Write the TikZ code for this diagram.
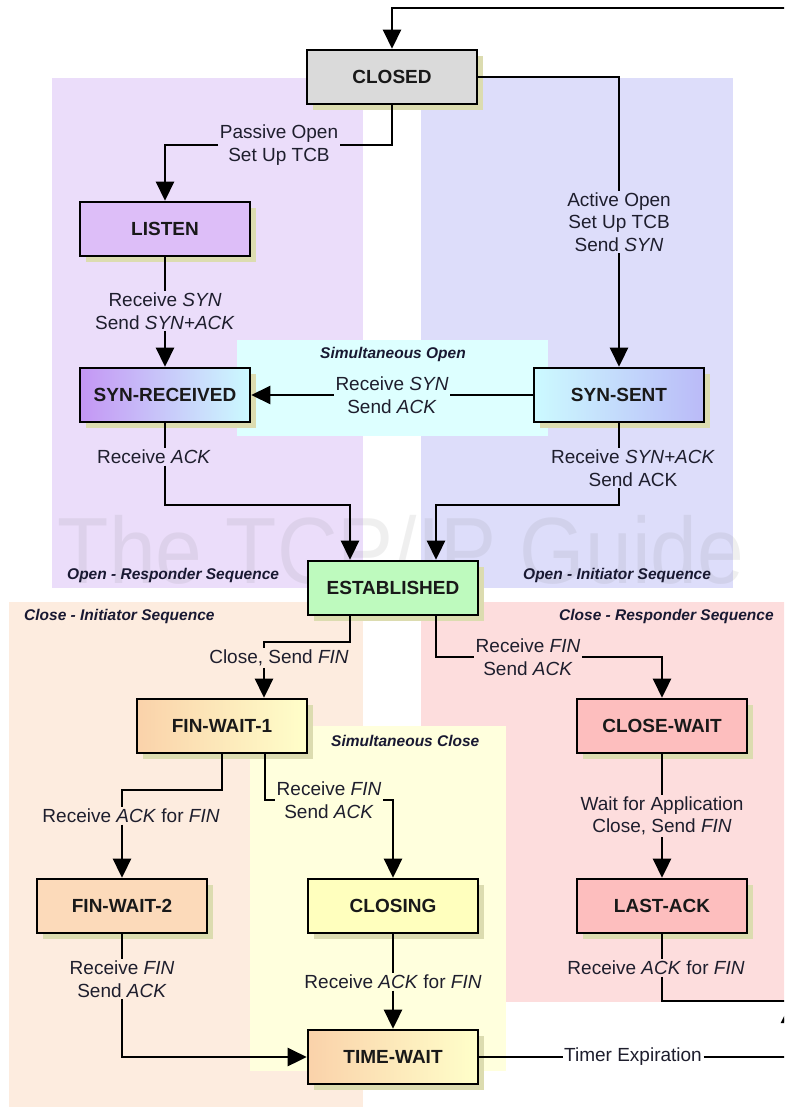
\documentclass[tikz,border=0pt]{standalone}
\usepackage{fontspec}
\setmainfont{Liberation Sans}
\usetikzlibrary{arrows.meta,shadows,calc}
\definecolor{bgpurple}{RGB}{235,221,250}
\definecolor{bgblue}{RGB}{221,221,250}
\definecolor{bgcyan}{RGB}{221,255,255}
\definecolor{bgpeach}{RGB}{253,236,223}
\definecolor{bgpink}{RGB}{253,221,221}
\definecolor{bgyellow}{RGB}{255,255,221}
\definecolor{shadowc}{RGB}{220,220,176}
\definecolor{labc}{RGB}{30,30,45}
\definecolor{titc}{RGB}{25,25,50}
\definecolor{cgray}{RGB}{218,218,218}
\definecolor{clisten}{RGB}{221,190,248}
\definecolor{cpurple}{RGB}{196,150,244}
\definecolor{clcyan}{RGB}{204,250,255}
\definecolor{clblue}{RGB}{186,186,248}
\definecolor{cgreen}{RGB}{190,250,190}
\definecolor{cpeach}{RGB}{250,210,170}
\definecolor{cpeach2}{RGB}{252,218,186}
\definecolor{clyellow}{RGB}{255,255,202}
\definecolor{cyellow}{RGB}{255,255,190}
\definecolor{cpink}{RGB}{253,190,190}
\begin{document}
\begin{tikzpicture}[x=1pt,y=-1pt,
  box/.style={draw=black, line width=2.6pt, minimum width=170pt, minimum height=54pt, inner sep=0pt,
    font=\fontsize{19}{22}\selectfont\bfseries, text=black!90,
    drop shadow={shadow xshift=6pt, shadow yshift=-6pt, fill=shadowc, opacity=1}},
  lab/.style={inner sep=1.5pt, align=center, font=\fontsize{19}{22.5}\selectfont, text=labc},
  conn/.style={line width=2.6pt, draw=black},
  arr/.style={conn, -{Triangle[length=19pt,width=18pt]}},
  region/.style={font=\fontsize{15.5}{18}\selectfont\bfseries\itshape, text=titc, inner sep=0pt},
]
\useasboundingbox (0,0) rectangle (784,1107);
\clip (0,0) rectangle (784,1107);
\fill[white] (0,0) rectangle (784,1107);

% background regions
\fill[bgpurple] (52,78) rectangle (363,588);
\fill[bgblue] (421,78) rectangle (733,588);
\fill[bgcyan] (237,340) rectangle (548,436);
\fill[bgpeach] (9,602) rectangle (363,1107);
\fill[bgpink] (421,602) rectangle (795,1002);
\fill[bgyellow] (250,726) rectangle (506,1071);

% watermark
\node[anchor=base, text=gray, opacity=0.12, inner sep=0pt, font=\fontsize{84}{84}\selectfont] (wm) at (401,583) {\scalebox{1}[1.12]{The TCP/IP Guide}};

% region titles
\node[region, anchor=west] (t1) at (67,575) {Open - Responder Sequence};
\node[region, anchor=west] (t2) at (523,575) {Open - Initiator Sequence};
\node[region] (t3) at (393,354) {Simultaneous Open};
\node[region, anchor=west] (t4) at (24,616) {Close - Initiator Sequence};
\node[region, anchor=west] (t5) at (559,616) {Close - Responder Sequence};
\node[region, anchor=west] (t6) at (331,741) {Simultaneous Close};

% states
\node[box, fill=cgray] (closed) at (392,77) {CLOSED};
\node[box, fill=clisten] (listen) at (165,229) {LISTEN};
\node[box, left color=cpurple, right color=clcyan] (synrcvd) at (165,395) {SYN-RECEIVED};
\node[box, left color=clcyan, right color=clblue] (synsent) at (619,395) {SYN-SENT};
\node[box, fill=cgreen] (est) at (393,588) {ESTABLISHED};
\node[box, left color=cpeach, right color=clyellow] (fw1) at (222,726) {FIN-WAIT-1};
\node[box, fill=cpink] (closewait) at (662,726) {CLOSE-WAIT};
\node[box, fill=cpeach2] (fw2) at (122,906) {FIN-WAIT-2};
\node[box, fill=cyellow] (closing) at (393,906) {CLOSING};
\node[box, fill=cpink] (lastack) at (662,906) {LAST-ACK};
\node[box, left color=cpeach, right color=clyellow] (timewait) at (393,1057) {TIME-WAIT};

% transition labels
\node[lab] (l1) at (279,145) {Passive Open\\Set Up TCB};
\node[lab] (l3) at (165,311) {Receive \textit{SYN}\\Send \textit{SYN+ACK}};
\node[lab] (l4) at (392,395) {Receive \textit{SYN}\\Send \textit{ACK}};
\node[lab] (l5) at (619,222) {Active Open\\Set Up TCB\\Send \textit{SYN}};
\node[lab] (l6) at (154,457) {Receive \textit{ACK}};
\node[lab] (l7) at (633,468) {Receive \textit{SYN+ACK}\\Send ACK};
\node[lab] (l8) at (279,658) {Close, Send \textit{FIN}};
\node[lab] (l9) at (528,657) {Receive \textit{FIN}\\Send \textit{ACK}};
\node[lab] (l10) at (131,816) {Receive \textit{ACK} for \textit{FIN}};
\node[lab] (l11) at (329,800) {Receive \textit{FIN}\\Send \textit{ACK}};
\node[lab] (l12) at (122,979) {Receive \textit{FIN}\\Send \textit{ACK}};
\node[lab] (l13) at (393,982) {Receive \textit{ACK} for \textit{FIN}};
\node[lab] (l14) at (662,816) {Wait for Application\\Close, Send \textit{FIN}};
\node[lab] (l15) at (656,968) {Receive \textit{ACK} for \textit{FIN}};
\node[lab] (l16) at (633,1057) {Timer Expiration};

% helper coordinates
\coordinate (rb) at (790,1001);
\coordinate (rt) at (790,8);
\coordinate (tl) at (392,8);
\coordinate (j1) at (350,505);
\coordinate (j2) at (436,505);
\coordinate (j3) at (350,642);
\coordinate (j4) at (264,642);
\coordinate (j5) at (436,657);
\coordinate (j6) at (222,790);
\coordinate (j7) at (122,790);
\coordinate (j8) at (265,800);
\coordinate (j9) at (393,800);

% connectors
\draw[conn] (closed.south) |- (l1.east);
\draw[arr] (l1.west) -| (listen.north);

\draw[conn] (closed.east) -| (synsent.north |- l5.north);
\draw[arr] (synsent.north |- l5.south) -- (synsent.north);

\draw[conn] (listen.south) -- (listen.south |- l3.north);
\draw[arr] (listen.south |- l3.south) -- (synrcvd.north);

\draw[conn] (synsent.west) -- (l4.east);
\draw[arr] (l4.west) -- (synrcvd.east);

\draw[conn] (synrcvd.south) -- (synrcvd.south |- l6.north);
\draw[arr] (synrcvd.south |- l6.south) |- (j1) -- (j1 |- est.north);

\draw[conn] (synsent.south) -- (synsent.south |- l7.north);
\draw[arr] (synsent.south |- l7.south) |- (j2) -- (j2 |- est.north);

\draw[conn] (j3 |- est.south) -- (j3) -- (j4) -- (j4 |- l8.north);
\draw[arr] (j4 |- l8.south) -- (j4 |- fw1.north);

\draw[conn] (j5 |- est.south) -- (j5) -- (l9.west);
\draw[arr] (l9.east) -| (closewait.north);

\draw[conn] (j6 |- fw1.south) -- (j6) -- (j7) -- (j7 |- l10.north);
\draw[arr] (j7 |- l10.south) -- (fw2.north);

\draw[conn] (j8 |- fw1.south) -- (j8) -- (l11.west);
\draw[arr] (l11.east) -- (j9) -- (closing.north);

\draw[conn] (fw2.south) -- (fw2.south |- l12.north);
\draw[arr] (fw2.south |- l12.south) |- (timewait.west);

\draw[conn] (closing.south) -- (l13.north);
\draw[arr] (l13.south) -- (timewait.north);

\draw[conn] (closewait.south) -- (l14.north);
\draw[arr] (l14.south) -- (lastack.north);

\draw[conn] (lastack.south) -- (lastack.south |- l15.north);
\draw[arr] (lastack.south |- l15.south) |- (rb) -- (rt) -- (tl) -- (closed.north);

\draw[conn] (timewait.east) -- (l16.west);
\draw[arr] (l16.east) -| ([yshift=-3pt]rb);
\end{tikzpicture}
\end{document}
